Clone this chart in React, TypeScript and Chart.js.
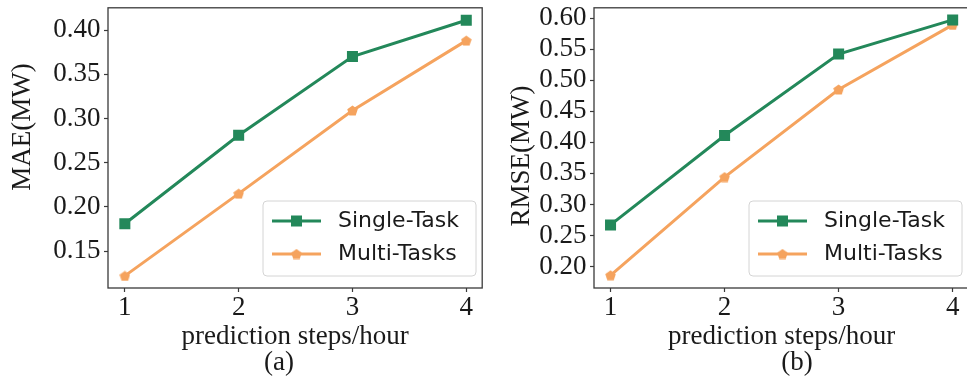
import React, { useEffect, useRef } from 'react';
import { Chart, registerables } from 'chart.js';

Chart.register(...registerables);

// ---- data ----
const steps = [1, 2, 3, 4];
const stepTickLabels = ['1', '2', '3', '4'];
const maeSingle = [0.181, 0.281, 0.37, 0.411];
const maeMulti = [0.122, 0.215, 0.309, 0.388];
const rmseSingle = [0.267, 0.411, 0.542, 0.597];
const rmseMulti = [0.186, 0.344, 0.485, 0.589];
const maeTicks = [0.15, 0.2, 0.25, 0.3, 0.35, 0.4];
const rmseTicks = [0.2, 0.25, 0.3, 0.35, 0.4, 0.45, 0.5, 0.55, 0.6];
const seriesLabels = ['Single-Task', 'Multi-Tasks'];
const xTitle = 'prediction steps/hour';

const GREEN = '#23885a';
const ORANGE = '#f5a35e';
const SERIF = "'Liberation Serif', 'Times New Roman', serif";
const SANS = "'DejaVu Sans', sans-serif";
const TEXT = '#1a1a1a';
const FRAME = '#3a3a3a';

function makePentagon(size: number, color: string): HTMLCanvasElement {
  const c = document.createElement('canvas');
  c.width = size;
  c.height = size;
  const g = c.getContext('2d')!;
  const r = size / 2;
  const cx = size / 2;
  const cy = size / 2 + size * 0.05;
  g.beginPath();
  for (let i = 0; i < 5; i++) {
    const a = -Math.PI / 2 + (i * 2 * Math.PI) / 5;
    const px = cx + r * Math.cos(a);
    const py = cy + r * Math.sin(a);
    if (i === 0) g.moveTo(px, py);
    else g.lineTo(px, py);
  }
  g.closePath();
  g.fillStyle = color;
  g.fill();
  return c;
}

const framePlugin = {
  id: 'frameBox',
  afterDatasetsDraw(chart: any) {
    const { ctx, chartArea } = chart;
    ctx.save();
    ctx.strokeStyle = FRAME;
    ctx.lineWidth = 1.3;
    ctx.strokeRect(chartArea.left, chartArea.top, chartArea.right - chartArea.left, chartArea.bottom - chartArea.top);
    ctx.restore();
  },
};

const boxLegendPlugin = {
  id: 'boxLegend',
  afterDraw(chart: any, _args: any, opts: any) {
    const { ctx } = chart;
    const { x, y, w, h, pent } = opts;
    ctx.save();
    ctx.beginPath();
    const r = 4;
    ctx.moveTo(x + r, y);
    ctx.arcTo(x + w, y, x + w, y + h, r);
    ctx.arcTo(x + w, y + h, x, y + h, r);
    ctx.arcTo(x, y + h, x, y, r);
    ctx.arcTo(x, y, x + w, y, r);
    ctx.closePath();
    ctx.fillStyle = 'rgba(255,255,255,0.85)';
    ctx.fill();
    ctx.strokeStyle = '#d4d4d4';
    ctx.lineWidth = 1;
    ctx.stroke();
    chart.data.datasets.forEach((ds: any, i: number) => {
      const cy = y + 20 + i * 33;
      ctx.beginPath();
      ctx.moveTo(x + 9, cy);
      ctx.lineTo(x + 58, cy);
      ctx.strokeStyle = ds.borderColor;
      ctx.lineWidth = 3;
      ctx.stroke();
      const mx = x + 33.5;
      if (ds.pointStyle === 'rect') {
        ctx.fillStyle = ds.borderColor;
        ctx.fillRect(mx - 5.5, cy - 5.5, 11, 11);
      } else if (pent) {
        ctx.drawImage(pent, mx - pent.width / 2, cy - pent.height / 2);
      }
      ctx.fillStyle = TEXT;
      ctx.font = `22px ${SANS}`;
      ctx.textAlign = 'left';
      ctx.textBaseline = 'middle';
      ctx.fillText(ds.label, x + 75, cy);
    });
    ctx.restore();
  },
};

const sideTextPlugin = {
  id: 'sideText',
  afterDraw(chart: any, _args: any, opts: any) {
    const { ctx } = chart;
    ctx.save();
    ctx.fillStyle = TEXT;
    ctx.font = `27px ${SERIF}`;
    ctx.textAlign = 'center';
    ctx.textBaseline = 'middle';
    // y-axis title
    ctx.save();
    ctx.translate(opts.yTitleX, opts.yTitleY);
    ctx.rotate(-Math.PI / 2);
    ctx.fillText(opts.yTitle, 0, 0);
    ctx.restore();
    // caption
    ctx.fillText(opts.caption, opts.captionX, opts.captionY);
    ctx.restore();
  },
};

interface PanelProps {
  left: number;
  width: number;
  yAxisWidth: number;
  padRight: number;
  xMin: number;
  xMax: number;
  yMin: number;
  yMax: number;
  yTicks: number[];
  single: number[];
  multi: number[];
  yTitle: string;
  yTitleX: number;
  yTitleY: number;
  caption: string;
  captionX: number;
  legendX: number;
}

function Panel(p: PanelProps) {
  const ref = useRef<HTMLCanvasElement | null>(null);
  useEffect(() => {
    if (!ref.current) return;
    const pent = makePentagon(11, ORANGE);
    const chart = new Chart(ref.current, {
      type: 'line',
      data: {
        datasets: [
          {
            label: seriesLabels[0],
            data: steps.map((s, i) => ({ x: s, y: p.single[i] })),
            borderColor: GREEN,
            backgroundColor: GREEN,
            borderWidth: 3,
            pointStyle: 'rect',
            pointRadius: 7.8,
            pointBorderWidth: 0,
            pointBackgroundColor: GREEN,
            tension: 0,
          },
          {
            label: seriesLabels[1],
            data: steps.map((s, i) => ({ x: s, y: p.multi[i] })),
            borderColor: ORANGE,
            backgroundColor: ORANGE,
            borderWidth: 3,
            pointStyle: pent as any,
            pointRadius: 5.5,
            pointBorderWidth: 0,
            tension: 0,
          },
        ],
      },
      options: {
        responsive: false,
        animation: false,
        events: [],
        layout: { padding: { left: 0, right: p.padRight, top: 7, bottom: 0 } },
        plugins: {
          legend: { display: false },
          tooltip: { enabled: false },
          boxLegend: { x: p.legendX, y: 201, w: 213, h: 75, pent },
          sideText: {
            yTitle: p.yTitle,
            yTitleX: p.yTitleX,
            yTitleY: p.yTitleY,
            caption: p.caption,
            captionX: p.captionX,
            captionY: 363,
          },
        } as any,
        scales: {
          x: {
            type: 'linear',
            min: p.xMin,
            max: p.xMax,
            afterBuildTicks: (s: any) => {
              s.ticks = steps.map((v) => ({ value: v }));
            },
            afterFit: (s: any) => {
              s.height = 91;
              s.paddingLeft = 0;
              s.paddingRight = 0;
            },
            ticks: {
              autoSkip: false,
              maxRotation: 0,
              padding: 0,
              color: TEXT,
              font: { family: SERIF, size: 27 },
              callback: (_v: any, i: number) => stepTickLabels[i],
            },
            grid: {
              display: true,
              drawOnChartArea: false,
              drawTicks: true,
              tickLength: 4,
              tickColor: FRAME,
              tickWidth: 1.2,
            },
            border: { display: false },
            title: {
              display: true,
              text: xTitle,
              color: TEXT,
              font: { family: SERIF, size: 27, lineHeight: 1.2 },
              padding: { top: 0, bottom: 26 },
            },
          },
          y: {
            type: 'linear',
            min: p.yMin,
            max: p.yMax,
            afterBuildTicks: (s: any) => {
              s.ticks = p.yTicks.map((v) => ({ value: v }));
            },
            afterFit: (s: any) => {
              s.width = p.yAxisWidth;
              s.paddingTop = 0;
              s.paddingBottom = 0;
            },
            ticks: {
              autoSkip: false,
              padding: 3.5,
              color: TEXT,
              font: { family: SERIF, size: 27 },
              callback: (v: any) => Number(v).toFixed(2),
            },
            grid: {
              display: true,
              drawOnChartArea: false,
              drawTicks: true,
              tickLength: 4,
              tickColor: FRAME,
              tickWidth: 1.2,
            },
            border: { display: false },
          },
        },
      },
      plugins: [framePlugin, boxLegendPlugin, sideTextPlugin],
    } as any);
    return () => chart.destroy();
  }, []);
  return (
    <canvas
      ref={ref}
      width={p.width}
      height={379}
      style={{ position: 'absolute', left: p.left, top: 0, width: p.width, height: 379, display: 'block' }}
    />
  );
}

export default function App() {
  return (
    <div
      style={{
        position: 'absolute',
        left: 0,
        top: 0,
        width: 967,
        height: 379,
        overflow: 'hidden',
        background: '#ffffff',
      }}
    >
      <Panel
        left={0}
        width={490}
        yAxisWidth={108}
        padRight={4}
        xMin={0.852}
        xMax={4.14}
        yMin={0.1083}
        yMax={0.4251}
        yTicks={maeTicks}
        single={maeSingle}
        multi={maeMulti}
        yTitle="MAE(MW)"
        yTitleX={23}
        yTitleY={127}
        caption="(a)"
        captionX={279}
        legendX={263}
      />
      <Panel
        left={490}
        width={487}
        yAxisWidth={104}
        padRight={3}
        xMin={0.855}
        xMax={4.145}
        yMin={0.1655}
        yMax={0.6165}
        yTicks={rmseTicks}
        single={rmseSingle}
        multi={rmseMulti}
        yTitle="RMSE(MW)"
        yTitleX={32}
        yTitleY={156}
        caption="(b)"
        captionX={307}
        legendX={259}
      />
    </div>
  );
}
